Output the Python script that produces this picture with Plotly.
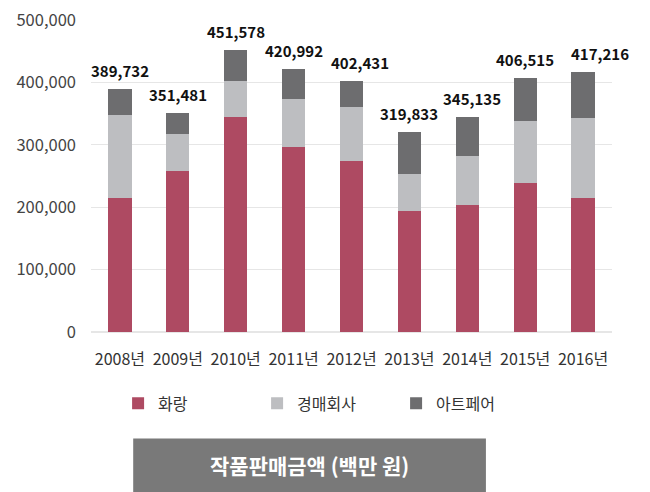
import plotly.graph_objects as go

years = ["2008년", "2009년", "2010년", "2011년", "2012년", "2013년", "2014년", "2015년", "2016년"]
gallery = [214200, 258000, 344000, 296000, 273500, 194400, 203000, 239300, 215300]
auction = [133600, 58800, 58300, 77900, 87100, 58800, 78500, 98800, 128200]
totals = [389732, 351481, 451578, 420992, 402431, 319833, 345135, 406515, 417216]
artfair = [t - g - a for t, g, a in zip(totals, gallery, auction)]

series = [
    ("화랑", gallery, "#AE4A62"),
    ("경매회사", auction, "#BDBEC1"),
    ("아트페어", artfair, "#6D6D6F"),
]

FONT = "Noto Sans CJK KR"

# small sideways nudges so neighbouring total labels don't collide
label_nudge = {"2012년": 8, "2014년": 5, "2016년": 17}

fig = go.Figure()
for name, vals, color in series:
    fig.add_trace(go.Bar(x=years, y=vals, name=name, marker_color=color,
                         marker_line_width=0, hoverinfo="y+name"))

# totals above each stack
for yr, tot in zip(years, totals):
    fig.add_annotation(x=yr, y=tot, text=f"{tot:,}", showarrow=False,
                       yanchor="bottom", yshift=6, xshift=label_nudge.get(yr, 0),
                       font=dict(family=FONT, size=15, color="#111111", weight="bold"))

# caption box under the legend
fig.add_shape(type="rect", xref="paper", yref="paper",
              x0=0.081, x1=0.758, y0=-0.53, y1=-0.34,
              fillcolor="#797979", line_width=0, layer="above")
fig.add_annotation(xref="paper", yref="paper", x=0.42, y=-0.426, yanchor="middle",
                   text="작품판매금액 (백만 원)", showarrow=False,
                   font=dict(family=FONT, size=21, color="white", weight="bold"))

fig.update_layout(
    barmode="stack",
    bargap=0.6,
    width=642, height=484,
    margin=dict(l=83, r=38, t=11, b=160, autoexpand=False),
    paper_bgcolor="white", plot_bgcolor="white",
    font=dict(family=FONT, size=15, color="#404040"),
    showlegend=True,
    legend=dict(orientation="h", x=0.052, y=-0.228, xanchor="left", yanchor="middle",
                font=dict(size=16, color="#333333"), itemwidth=30,
                entrywidth=94, entrywidthmode="pixels",
                traceorder="normal"),
    xaxis=dict(range=[-0.5, len(years) - 0.5], showline=False, ticks="",
               ticklabelstandoff=16, tickfont=dict(size=16, color="#333333")),
    yaxis=dict(range=[0, 501500], tickvals=[0, 100000, 200000, 300000, 400000, 500000],
               tickformat=",", ticklabeloverflow="allow",
               gridcolor="#E6E6E6", zeroline=True, zerolinecolor="#E6E6E6",
               ticks="", ticklen=0, ticklabelstandoff=14,
               tickfont=dict(size=16.5, color="#444444")),
)

fig.write_html("out.html")
